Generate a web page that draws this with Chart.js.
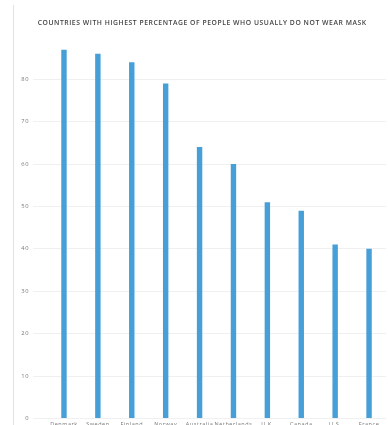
<!DOCTYPE html>
<html>
<head>
<meta charset="utf-8">
<script src="https://cdn.jsdelivr.net/npm/chart.js@4/dist/chart.umd.min.js"></script>
<style>
  html, body { margin: 0; padding: 0; background: #fff; overflow: hidden; }
  .frame { position: absolute; left: 13px; top: 5px; width: 375px; height: 440px; border-left: 1px solid #e2e2e2; }
  #chart { position: absolute; left: 8px; top: 0; }
</style>
</head>
<body>
<div class="frame"></div>
<canvas id="chart" width="380" height="440"></canvas>
<script>
const countries = ['Denmark', 'Sweden', 'Finland', 'Norway', 'Australia', 'Netherlands', 'U.K.', 'Canada', 'U.S.', 'France'];
const noMaskPct = [87, 86, 84, 79, 64, 60, 51, 49, 41, 40];
const yMax = 87;
const yStep = 10;

// spaced-out title text; reset before bars/labels are drawn
const titleSpacing = {
    id: 'titleSpacing',
    beforeDraw(chart) { chart.ctx.letterSpacing = '0.55px'; },
    beforeDatasetsDraw(chart) { chart.ctx.letterSpacing = '0px'; }
};

const ctx = document.getElementById('chart').getContext('2d');
new Chart(ctx, {
    type: 'bar',
    data: {
        labels: countries,
        datasets: [{
            data: noMaskPct,
            backgroundColor: '#479fd8',
            categoryPercentage: 0.8,
            barPercentage: 0.2
        }]
    },
    plugins: [titleSpacing],
    options: {
        responsive: false,
        animation: false,
        layout: { padding: { left: 10.4, right: 2, top: 0, bottom: 9 } },
        plugins: {
            legend: { display: false },
            tooltip: { enabled: false },
            title: {
                display: true,
                text: 'COUNTRIES WITH HIGHEST PERCENTAGE OF PEOPLE WHO USUALLY DO NOT WEAR MASK',
                color: '#444',
                font: { family: 'Open Sans', size: 6.8, weight: '600' },
                padding: { top: 19, bottom: 22.4 }
            }
        },
        scales: {
            x: {
                z: 1,
                grid: { display: false, drawTicks: false },
                border: { display: false },
                ticks: { color: '#777', font: { family: 'Open Sans', size: 5.5 }, padding: 3, maxRotation: 0, autoSkip: false }
            },
            y: {
                z: 1,
                min: 0,
                max: yMax,
                bounds: 'data',
                afterBuildTicks: scale => {
                    scale.ticks = scale.ticks.filter(t => t.value % yStep === 0);
                },
                grid: { color: '#f0f0f0', tickLength: 14 },
                border: { display: false },
                ticks: { stepSize: yStep, color: '#777', font: { family: 'Open Sans', size: 5.8 }, padding: 4 }
            }
        }
    }
});
</script>
</body>
</html>
